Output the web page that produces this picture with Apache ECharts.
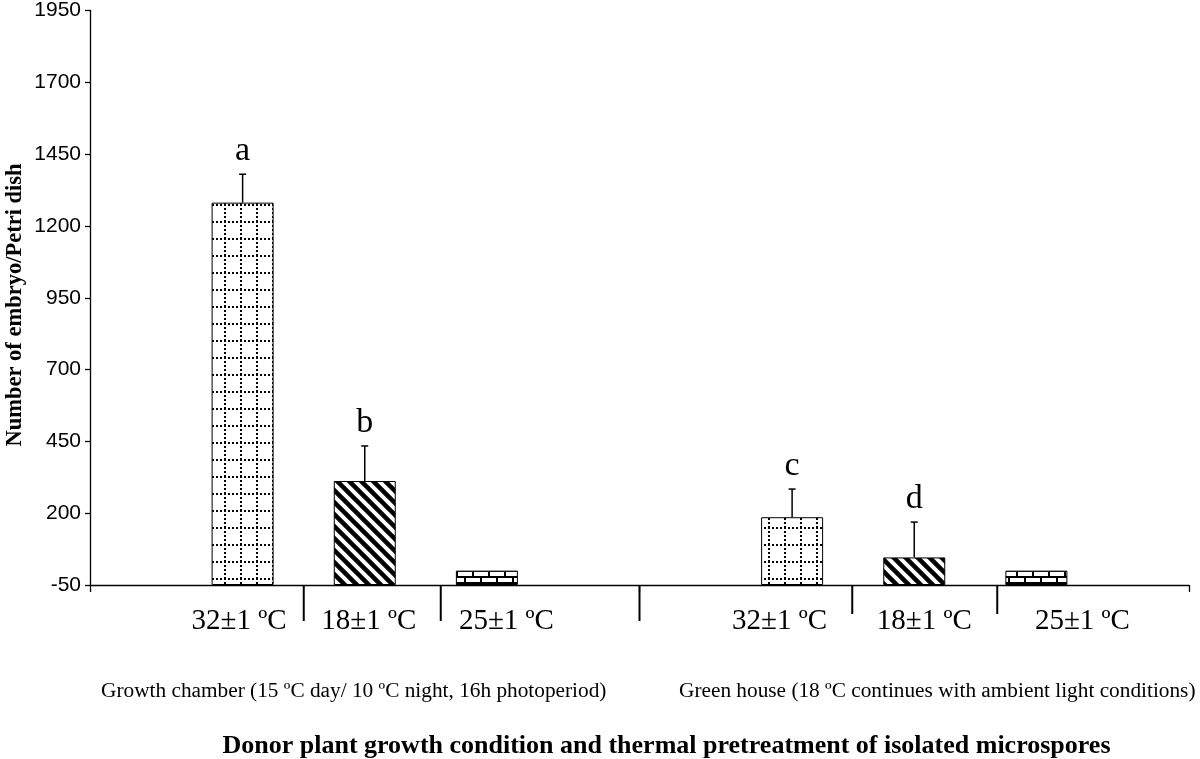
<!DOCTYPE html>
<html><head><meta charset="utf-8">
<script src="https://cdn.jsdelivr.net/npm/echarts@6/dist/echarts.min.js"></script>
<style>html,body{margin:0;padding:0;background:#fff}#c{width:1200px;height:759px}</style>
</head><body><div id="c"></div>
<script>
// ---- data ----
const categories = ['Growth chamber (15 ºC day/ 10 ºC night, 16h photoperiod)',
                    'Green house (18 ºC continues with ambient light conditions)'];
const treatments = ['32±1 ºC', '18±1 ºC', '25±1 ºC'];
const means32 = [1281, 186];
const means18 = [312, 46];
const means25 = [0, 0];
const err32 = [99, 98];
const err18 = [122, 123];
const err25 = [0, 0];
const letters32 = ['a', 'c'];
const letters18 = ['b', 'd'];
const letters25 = ['', ''];
const yMin = -50, yMax = 1950, yStep = 250;
const yTitle = 'Number of embryo/Petri dish';
const xTitle = 'Donor plant growth condition and thermal pretreatment of isolated microspores';

// ---- styles ----
const SERIF = '"Liberation Serif", "Times New Roman", serif';
const SANS = '"Liberation Sans", Arial, sans-serif';
const BAR_W = 62, BAR_GAP = 0.97;
const SPACING = BAR_W * (1 + BAR_GAP);

function mk(w, h, draw) {
  const c = document.createElement('canvas'); c.width = w; c.height = h;
  const g = c.getContext('2d'); g.fillStyle = '#fff'; g.fillRect(0, 0, w, h);
  g.fillStyle = '#000'; g.strokeStyle = '#000'; draw(g); return c;
}
const dotGrid = mk(16, 17, g => {
  for (let x = 0; x < 16; x += 4) g.fillRect(x, 0, 2, 2);
  for (let y = 0; y < 17; y += 4) g.fillRect(0, y, 2, 2);
});
const stripes = mk(12, 12, g => {
  g.lineWidth = 4.5;
  for (let k = -1; k <= 1; k++) { g.beginPath(); g.moveTo(k * 12 - 2, -2); g.lineTo(k * 12 + 14, 14); g.stroke(); }
});
const bricks = mk(16, 12, g => {
  g.fillRect(0, 0, 16, 2); g.fillRect(0, 6, 16, 2);
  g.fillRect(0, 0, 2, 6); g.fillRect(8, 6, 2, 6);
});
const patterns = [dotGrid, stripes, bricks];
const meansAll = [means32, means18, means25];
const errAll = [err32, err18, err25];
const lettersAll = [letters32, letters18, letters25];

const errData = [], errLetters = [];
for (let s = 0; s < 3; s++) for (let c = 0; c < categories.length; c++) {
  errData.push([c, s, meansAll[s][c], errAll[s][c]]);
  errLetters.push(lettersAll[s][c]);
}

const chart = echarts.init(document.getElementById('c'), null, {renderer: 'canvas'});
const option = {
  animation: false,
  grid: {left: 90, right: 11, top: 10, bottom: 174, containLabel: false},
  xAxis: {
    type: 'category', data: categories, boundaryGap: true,
    axisLine: {onZero: false, lineStyle: {color: '#000', width: 1.3}},
    axisTick: {show: true, length: 7, lineStyle: {color: '#000', width: 1.3}},
    axisLabel: {show: false}, splitLine: {show: false}
  },
  yAxis: {
    type: 'value', min: yMin, max: yMax, interval: yStep, startValue: yMin,
    axisLine: {show: true, lineStyle: {color: '#000', width: 1.3}},
    axisTick: {show: true, length: 5, lineStyle: {color: '#000', width: 1.3}},
    axisLabel: {color: '#000', fontFamily: SANS, fontSize: 21, margin: 9, formatter: v => String(v)},
    splitLine: {show: false}
  },
  series: treatments.map((t, s) => ({
    type: 'bar', name: t, data: meansAll[s], barWidth: BAR_W, barGap: (BAR_GAP * 100) + '%',
    itemStyle: {color: {image: patterns[s], repeat: 'repeat'}, borderColor: '#000', borderWidth: 1}
  })).concat([{
    type: 'custom', data: errData, encode: {x: 0, y: 2}, z: 5,
    renderItem: function (params, api) {
      const cat = api.value(0), s = api.value(1), m = api.value(2), e = api.value(3);
      const base = api.coord([cat, m]);
      const top = api.coord([cat, m + e]);
      const x = base[0] + (s - 1) * SPACING;
      const ch = [];
      if (e > 0) {
        ch.push({type: 'line', shape: {x1: x, y1: base[1], x2: x, y2: top[1]}, style: {stroke: '#000', lineWidth: 1.5}});
        ch.push({type: 'line', shape: {x1: x - 3.5, y1: top[1], x2: x + 3.5, y2: top[1]}, style: {stroke: '#000', lineWidth: 1.5}});
      }
      const L = errLetters[params.dataIndex];
      if (L) ch.push({type: 'text', x: x, y: top[1] - 6,
        style: {text: L, font: '34px ' + SERIF, fill: '#000', align: 'center', verticalAlign: 'bottom'}});
      return {type: 'group', children: ch};
    }
  }])
};
chart.setOption(option);

// annotation layout relative to axis positions
const cx = categories.map(c => chart.convertToPixel({xAxisIndex: 0}, c));
const yb = chart.convertToPixel({yAxisIndex: 0}, yMin);
const labelOff = [[-3.5, 4, 19.5], [-12.5, 10, 46]];
const sepOff = [[-61, 76], [-62, 83]];
const sepLen = [36, 29];
const groupOff = [-11, 23];
const g = [];
categories.forEach((c, i) => {
  treatments.forEach((t, s) => {
    g.push({type: 'text', x: cx[i] + (s - 1) * SPACING + labelOff[i][s], y: yb + 36,
      style: {text: t, font: '29px ' + SERIF, fill: '#000', align: 'center', verticalAlign: 'middle'}});
  });
  sepOff[i].forEach(o => g.push({type: 'line', shape: {x1: cx[i] + o, y1: yb, x2: cx[i] + o, y2: yb + sepLen[i]},
    style: {stroke: '#000', lineWidth: 2}}));
  g.push({type: 'text', x: cx[i] + groupOff[i], y: yb + 106,
    style: {text: c, font: '21.3px ' + SERIF, fill: '#000', align: 'center', verticalAlign: 'middle'}});
});
const mid = (cx[0] + cx[1]) / 2;
g.push({type: 'line', shape: {x1: mid, y1: yb, x2: mid, y2: yb + 36}, style: {stroke: '#000', lineWidth: 2}});
g.push({type: 'text', x: mid + 27, y: yb + 161,
  style: {text: xTitle, font: 'bold 26px ' + SERIF, fill: '#000', align: 'center', verticalAlign: 'middle'}});
g.push({type: 'text', x: 15, y: 305, rotation: Math.PI / 2,
  style: {text: yTitle, font: 'bold 22.5px ' + SERIF, fill: '#000', align: 'center', verticalAlign: 'middle'}});
chart.setOption({graphic: {elements: g}});
</script></body></html>
